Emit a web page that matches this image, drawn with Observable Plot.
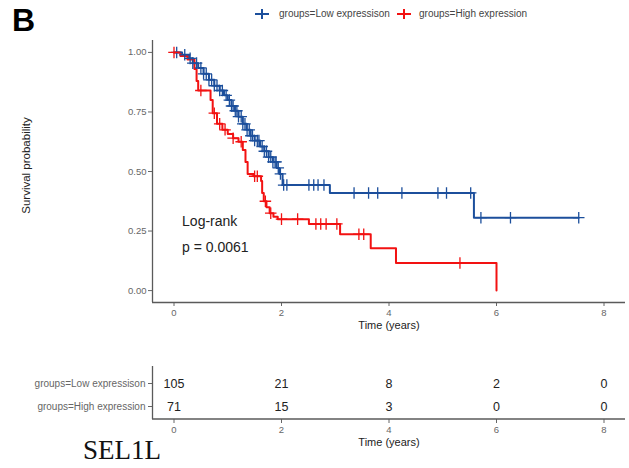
<!DOCTYPE html>
<html><head><meta charset="utf-8">
<script src="https://cdn.jsdelivr.net/npm/d3@7"></script>
<script src="https://cdn.jsdelivr.net/npm/@observablehq/plot@0.6"></script>
<style>
body{margin:0;background:#fff;font-family:"Liberation Sans",Arial,sans-serif;}
#wrap{position:relative;width:629px;height:468px;overflow:hidden;background:#fff;}
.abs{position:absolute;}
#tag{left:12px;top:4px;font-size:32px;font-weight:bold;line-height:1;color:#000;}
#gene{left:83px;top:437px;font-family:"Liberation Serif","Times New Roman",serif;font-size:27px;line-height:1;color:#111;}
.legtxt{font-size:10px;color:#444;line-height:1;white-space:nowrap;}
</style></head><body>
<div id="wrap">
  <div id="main" class="abs" style="left:0;top:0"></div>
  <div id="table" class="abs" style="left:0;top:360px"></div>
  <div id="tag" class="abs">B</div>
  <div id="gene" class="abs">SEL1L</div>
  <div id="legend"></div>
</div>
<script>
const groups = ["groups=Low expressison", "groups=High expression"];
const colors = ["#1c4f9c", "#f21212"];

// Kaplan-Meier steps (time in years, survival)
const lowTime = [0, 0.15, 0.28, 0.35, 0.45, 0.55, 0.65, 0.75, 0.85, 0.93, 1.0, 1.07, 1.13, 1.2, 1.28, 1.35, 1.42, 1.5, 1.6, 1.68, 1.76, 1.84, 1.91, 1.96, 2.02, 2.9, 5.58];
const lowSurv = [1, 0.99, 0.975, 0.955, 0.935, 0.91, 0.885, 0.86, 0.84, 0.82, 0.8, 0.775, 0.755, 0.73, 0.7, 0.675, 0.65, 0.63, 0.605, 0.585, 0.56, 0.54, 0.515, 0.49, 0.443, 0.41, 0.306];
const lowLast = 7.53;
const highTime = [0, 0.12, 0.25, 0.38, 0.42, 0.45, 0.68, 0.72, 0.8, 0.9, 1.0, 1.1, 1.2, 1.28, 1.33, 1.37, 1.48, 1.62, 1.64, 1.67, 1.72, 1.78, 1.85, 1.93, 2.51, 3.09, 3.66, 4.13, 6.0];
const highSurv = [1, 0.985, 0.97, 0.93, 0.88, 0.84, 0.8, 0.745, 0.7, 0.675, 0.657, 0.64, 0.625, 0.59, 0.54, 0.49, 0.48, 0.46, 0.41, 0.375, 0.35, 0.325, 0.31, 0.3, 0.28, 0.237, 0.178, 0.116, 0];

// censoring times
const lowCensor = [0.05, 0.2, 0.3, 0.35, 0.42, 0.5, 0.55, 0.6, 0.65, 0.7, 0.75, 0.8, 0.85, 0.9, 0.97, 1.03, 1.07, 1.1, 1.14, 1.17, 1.2, 1.25, 1.28, 1.32, 1.36, 1.4, 1.43, 1.46, 1.5, 1.55, 1.58, 1.64, 1.68, 1.72, 1.76, 1.8, 1.84, 1.88, 1.9, 1.94, 1.98, 2.04, 2.1, 2.51, 2.6, 2.68, 2.79, 3.35, 3.62, 3.79, 4.24, 4.91, 5.07, 5.52, 5.71, 6.26, 7.53];
const highCensor = [0, 0.5, 0.75, 0.85, 0.95, 1.1, 1.25, 1.5, 1.55, 1.7, 1.8, 2.0, 2.3, 2.64, 2.73, 2.83, 3.03, 3.44, 3.53, 5.32];

// number at risk
const riskTimes = [0, 2, 4, 6, 8];
const riskLow = [105, 21, 8, 2, 0];
const riskHigh = [71, 15, 3, 0, 0];

const xTicks = [0, 2, 4, 6, 8];
const yTicks = [0, 0.25, 0.5, 0.75, 1];
const xDomain = [-0.4, 8.4];
const yDomain = [-0.05, 1.05];
const annoLines = ["Log-rank", "p = 0.0061"];
const xTitle = "Time (years)";
const yTitle = "Survival probability";

function stepAt(times, survs, t) {
  let s = survs[0];
  for (let i = 0; i < times.length; i++) if (times[i] <= t) s = survs[i];
  return s;
}

const curve = [];
lowTime.forEach((t, i) => curve.push({t, s: lowSurv[i], g: groups[0]}));
curve.push({t: lowLast, s: lowSurv[lowSurv.length - 1], g: groups[0]});
highTime.forEach((t, i) => curve.push({t, s: highSurv[i], g: groups[1]}));

const cens = [];
lowCensor.forEach(t => cens.push({t, s: stepAt(lowTime, lowSurv, t), g: groups[0]}));
highCensor.forEach(t => cens.push({t, s: stepAt(highTime, highSurv, t), g: groups[1]}));

const axisCol = "#5a5a5a";
const main = Plot.plot({
  width: 629, height: 345,
  marginLeft: 152, marginRight: 4, marginTop: 40, marginBottom: 43,
  style: {fontFamily: "Liberation Sans, Arial, sans-serif", fontSize: "9.5px", background: "#fff"},
  x: {domain: xDomain},
  y: {domain: yDomain},
  color: {domain: groups, range: colors},
  marks: [
    Plot.axisY({ticks: yTicks, tickFormat: d3.format(".2f"), tickSize: 4, tickPadding: 2, color: "#666", label: null, fontSize: 9.5}),
    Plot.axisX({ticks: xTicks, tickSize: 4, tickPadding: 3, color: "#666", label: null, fontSize: 9.5}),
    Plot.ruleX([xDomain[0]], {stroke: axisCol, strokeWidth: 1.3}),
    Plot.ruleY([yDomain[0]], {stroke: axisCol, strokeWidth: 1.3}),
    Plot.line(curve, {x: "t", y: "s", z: "g", stroke: "g", curve: "step-after", strokeWidth: 2}),
    Plot.dot(cens, {x: "t", y: "s", stroke: "g", symbol: "plus", r: 3.8, strokeWidth: 1.3}),
    Plot.text([annoLines[0]], {x: 0.15, y: 0.288, text: d => d, textAnchor: "start", fontSize: 14, fill: "#222"}),
    Plot.text([annoLines[1]], {x: 0.15, y: 0.182, text: d => d, textAnchor: "start", fontSize: 14, fill: "#222"}),
    Plot.text([xTitle], {frameAnchor: "bottom", dy: 26, text: d => d, fontSize: 11, fill: "#222"}),
    Plot.text([yTitle], {frameAnchor: "left", textAnchor: "middle", dx: -126, dy: -6, rotate: -90, text: d => d, fontSize: 11.5, fill: "#222"})
  ]
});
document.getElementById("main").appendChild(main);

const rows = [];
riskTimes.forEach((t, i) => {
  rows.push({t, g: groups[0], n: riskLow[i]});
  rows.push({t, g: groups[1], n: riskHigh[i]});
});
const table = Plot.plot({
  width: 629, height: 108,
  marginLeft: 152, marginRight: 4, marginTop: 6, marginBottom: 49,
  style: {fontFamily: "Liberation Sans, Arial, sans-serif", fontSize: "9.5px", background: "#fff"},
  x: {domain: xDomain},
  y: {type: "point", domain: groups, range: [23, 46], padding: 0},
  marks: [
    Plot.axisY({tickSize: 4, tickPadding: 3, color: "#666", label: null, fontSize: 10}),
    Plot.axisX({ticks: xTicks, tickSize: 4, tickPadding: 3, color: "#666", label: null, fontSize: 9.5}),
    Plot.ruleX([xDomain[0]], {stroke: axisCol, strokeWidth: 1.3}),
    Plot.text(rows, {x: "t", y: "g", text: "n", fontSize: 12.5, fill: "#222"}),
    Plot.text([xTitle], {frameAnchor: "bottom", dy: 26, text: d => d, fontSize: 11, fill: "#222"})
  ]
});
document.getElementById("table").appendChild(table);
// bottom axis line of the table
{
  const svg = d3.select(table);
  const xs = d3.scaleLinear().domain(xDomain).range([152, 625]);
  svg.append("line").attr("x1", xs(xDomain[0])).attr("x2", xs(xDomain[1]))
    .attr("y1", 108 - 49).attr("y2", 108 - 49).attr("stroke", axisCol).attr("stroke-width", 1.3);
}

// legend
const legPos = [{px: 262, tx: 279}, {px: 404, tx: 419}];
const leg = document.getElementById("legend");
groups.forEach((g, i) => {
  const p = legPos[i];
  const s = document.createElementNS("http://www.w3.org/2000/svg", "svg");
  s.setAttribute("width", 14); s.setAttribute("height", 12);
  s.style.position = "absolute"; s.style.left = (p.px - 7) + "px"; s.style.top = "8px";
  s.innerHTML = `<line x1="0" x2="14" y1="6" y2="6" stroke="${colors[i]}" stroke-width="2"/><line x1="7" x2="7" y1="1" y2="11" stroke="${colors[i]}" stroke-width="2"/>`;
  leg.appendChild(s);
  const t = document.createElement("div");
  t.className = "abs legtxt";
  t.style.left = p.tx + "px"; t.style.top = "9px";
  t.textContent = g;
  leg.appendChild(t);
});
</script>
</body></html>
